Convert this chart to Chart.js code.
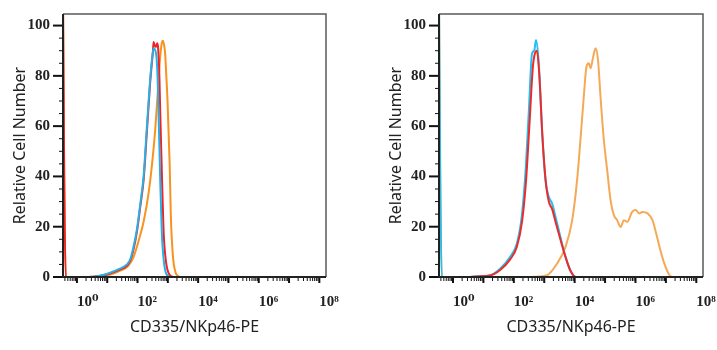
<!DOCTYPE html>
<html><head><meta charset="utf-8">
<script src="https://cdn.jsdelivr.net/npm/chart.js@4/dist/chart.umd.min.js"></script>
<style>
html,body{margin:0;padding:0;background:#fff;}
#wrap{position:relative;width:717px;height:350px;}
.box{position:absolute;top:0;height:350px;}
#b1{left:0;width:358px;}
#b2{left:376px;width:341px;}
</style></head><body>
<div id="wrap"><div class="box" id="b1"><canvas id="c1"></canvas></div><div class="box" id="b2"><canvas id="c2"></canvas></div></div>
<script>
// ---- tick labels ----
const decadeExponents = [0, 2, 4, 6, 8];
const decadeTickLabels = ["10⁰", "10²", "10⁴", "10⁶", "10⁸"];
const yTickValues = [0, 20, 40, 60, 80, 100];
const yTickLabels = ["0", "20", "40", "60", "80", "100"];
const xTitle = "CD335/NKp46-PE";
const yTitle = "Relative Cell Number";

// ---- left panel (x = log10 fluorescence, y = relative cell number) ----
const leftRedLog   = [-0.46,-0.42,-0.37,0.37,0.75,1.05,1.4,1.65,1.76,1.85,1.98,2.09,2.2,2.31,2.42,2.51,2.53,2.57,2.61,2.65,2.68,2.72,2.75,2.81,2.86,2.94,3.05,3.2,8.25];
const leftRedCount = [110,40,0,0,0.4,1.2,2.8,4.5,6.5,10,18,28,38.5,58,78,90,93.5,92,91.5,93,91,80,65,38,18,6,1,0,0];
const leftBlueLog   = [-0.46,0.37,0.75,1.05,1.4,1.65,1.76,1.85,1.98,2.09,2.2,2.31,2.42,2.5,2.54,2.6,2.63,2.66,2.7,2.75,2.8,2.87,2.96,3.1,8.25];
const leftBlueCount = [0,0,0.5,1.5,3.2,5,7,11,19,29,40,60,79,89,91,89.5,87,80,62,38,18,6,1,0,0];
const leftOrangeLog   = [-0.46,-0.42,-0.37,0.5,0.8,1.1,1.43,1.7,1.87,2.05,2.2,2.36,2.48,2.58,2.66,2.73,2.8,2.84,2.88,2.91,2.95,2.99,3.06,3.1,3.17,3.25,3.32,3.42,8.25];
const leftOrangeCount = [110,40,0,0,0.5,1,2.5,4.5,8,15,22,33,45,58,72,85,93,94,92,89,80,70,45,24,8,2,0.5,0,0];

// ---- right panel ----
const rightRedLog   = [-0.46,0.56,0.9,1.22,1.55,1.88,2.1,2.27,2.4,2.52,2.63,2.76,2.84,2.94,3.05,3.15,3.26,3.37,3.53,3.7,3.86,4.05,8.25];
const rightRedCount = [0,0,0.3,0.6,2.8,7,12,22,38,62,84,90,80,56,38,30,27,22,15,8,2.5,0,0];
const rightBlueLog   = [-0.46,-0.42,-0.37,0.56,0.89,1.22,1.55,1.88,2.1,2.26,2.38,2.49,2.6,2.67,2.73,2.82,2.93,3.04,3.15,3.26,3.37,3.53,3.7,3.86,4.03,8.25];
const rightBlueCount = [110,40,0,0,0.3,0.7,3.3,8,13.3,24,41,65,89,90,94.3,85,58,38.5,31.9,29.2,24,16,8,2.7,0,0];
const rightOrangeLog   = [-0.46,-0.42,-0.37,2.54,3.09,3.42,3.7,3.92,4.08,4.19,4.3,4.39,4.47,4.52,4.61,4.69,4.77,4.85,4.96,5.07,5.18,5.29,5.4,5.51,5.62,5.73,5.89,6.01,6.12,6.23,6.4,6.56,6.68,6.79,6.95,7.12,7.23,8.25];
const rightOrangeCount = [110,40,0,0,0.7,5.3,12,22.6,38.5,54.5,71.7,83.7,85,83,87.6,91,86,71.7,54.5,42.5,30.6,24.6,22.6,19.9,22.6,21.9,25.9,26.6,25.3,25.9,25.3,22.6,17.3,12,5.3,0.7,0,0];

const X_MIN = -0.46, X_MAX = 8.22, Y_MIN = 0, Y_MAX = 104.6;

function pts(xs, ys) { return xs.map((x, i) => ({x: x, y: ys[i]})); }
function ds(label, xs, ys, color) {
  return {label, data: pts(xs, ys), borderColor: color, backgroundColor: color, borderWidth: 2,
    pointRadius: 0, fill: false, cubicInterpolationMode: 'monotone'};
}

const framePlugin = {
  id: 'frame',
  afterDatasetsDraw(chart) {
    const {ctx, chartArea: a, scales: {x, y}} = chart;
    ctx.save();
    ctx.strokeStyle = '#111';
    x.ticks.forEach(t => {
      const px = x.getPixelForValue(t.value);
      if (px < a.left - 0.5 || px > a.right + 0.5) return;
      const major = Math.abs(t.value - Math.round(t.value)) < 1e-9;
      ctx.lineWidth = major ? 2 : 1;
      ctx.beginPath(); ctx.moveTo(px, a.bottom); ctx.lineTo(px, a.bottom + (major ? 6 : 4)); ctx.stroke();
    });
    y.ticks.forEach(t => {
      const py = y.getPixelForValue(t.value);
      const major = yTickValues.includes(t.value);
      ctx.lineWidth = major ? 2 : 1;
      ctx.beginPath(); ctx.moveTo(a.left, py); ctx.lineTo(a.left - (major ? 10 : 4), py); ctx.stroke();
    });
    ctx.lineWidth = 1.5; ctx.strokeStyle = '#5a5a5a';
    ctx.beginPath(); ctx.moveTo(a.left, a.top); ctx.lineTo(a.right, a.top); ctx.lineTo(a.right, a.bottom); ctx.stroke();
    ctx.lineWidth = 2; ctx.strokeStyle = '#222';
    ctx.beginPath(); ctx.moveTo(a.left, a.top); ctx.lineTo(a.left, a.bottom); ctx.lineTo(a.right, a.bottom); ctx.stroke();
    ctx.restore();
  }
};

function makeChart(id, datasets, padRight) {
  return new Chart(document.getElementById(id), {
    type: 'line',
    data: {datasets},
    plugins: [framePlugin],
    options: {
      responsive: true, maintainAspectRatio: false, animation: false,
      layout: {padding: {top: 14, right: padRight, left: 0, bottom: 0}},
      plugins: {legend: {display: false}, tooltip: {enabled: false}},
      scales: {
        x: {
          type: 'linear', min: X_MIN, max: X_MAX,
          grid: {display: false, drawTicks: false}, border: {display: false},
          afterBuildTicks(scale) {
            const t = [];
            for (let d = -1; d <= 8; d++) for (let m = 1; m <= 9; m++) {
              const v = d + Math.log10(m);
              if (v >= X_MIN && v <= X_MAX) t.push({value: v});
            }
            scale.ticks = t;
          },
          afterFit(scale) { scale.height = 73; scale.paddingLeft = 0; scale.paddingRight = 0; },
          ticks: {
            autoSkip: false, maxRotation: 0, minRotation: 0, align: 'start', padding: 16,
            color: '#222', font: {family: '"Liberation Serif","DejaVu Serif",serif', size: 15, weight: 'bold'},
            callback(v) {
              const i = decadeExponents.findIndex(e => Math.abs(e - v) < 1e-9);
              return i >= 0 ? decadeTickLabels[i] : '';
            }
          },
          title: {display: true, text: xTitle, color: '#222',
            font: {family: '"Noto Sans","Open Sans",sans-serif', size: 16}, padding: {top: 0, bottom: 13.4}}
        },
        y: {
          min: Y_MIN, max: Y_MAX,
          grid: {display: false, drawTicks: false}, border: {display: false},
          afterFit(scale) { scale.width = 63; scale.paddingTop = 0; scale.paddingBottom = 0; },
          ticks: {
            stepSize: 5, includeBounds: false, autoSkip: false, padding: 13,
            color: '#222', font: {family: '"Liberation Serif","DejaVu Serif",serif', size: 15, weight: 'bold'},
            callback(v) {
              const i = yTickValues.indexOf(v);
              return i >= 0 ? yTickLabels[i] : '';
            }
          },
          title: {display: true, text: yTitle, color: '#222',
            font: {family: '"Noto Sans","Open Sans",sans-serif', size: 16}, padding: {top: 10.4, bottom: 0}}
        }
      }
    }
  });
}

makeChart('c1', [
  ds('Blue', leftBlueLog, leftBlueCount, '#2aaee6'),
  ds('Red', leftRedLog, leftRedCount, '#ee2424'),
  ds('Orange', leftOrangeLog, leftOrangeCount, '#f7931e')
], 32);

makeChart('c2', [
  ds('Red', rightRedLog, rightRedCount, '#ee2a2a'),
  ds('Blue', rightBlueLog, rightBlueCount, '#22bff0'),
  ds('Orange', rightOrangeLog, rightOrangeCount, '#f5a957')
], 14);
</script>
</body></html>
